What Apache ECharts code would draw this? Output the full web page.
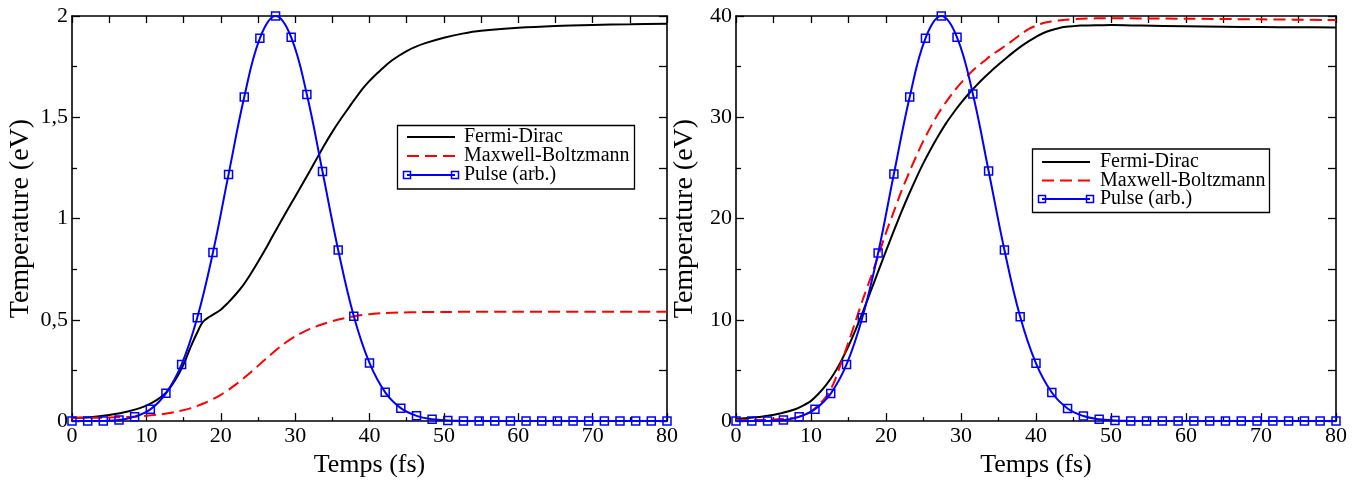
<!DOCTYPE html>
<html>
<head>
<meta charset="utf-8">
<script src="https://cdn.jsdelivr.net/npm/echarts@6/dist/echarts.min.js"></script>
<style>
html,body{margin:0;padding:0;background:#fff;}
#chart{width:1360px;height:483px;}
</style>
</head>
<body>
<div id="chart"></div>
<script>
// ---- Data ----
var pulseTimes = [0, 2.11, 4.21, 6.32, 8.42, 10.53, 12.63, 14.74, 16.84, 18.95, 21.05, 23.16, 25.26, 27.37, 29.47, 31.58, 33.68, 35.79, 37.89, 40, 42.11, 44.21, 46.32, 48.42, 50.53, 52.63, 54.74, 56.84, 58.95, 61.05, 63.16, 65.26, 67.37, 69.47, 71.58, 73.68, 75.79, 77.89, 80];
var pulseLeft = [0, 0, 0.001, 0.005, 0.022, 0.058, 0.137, 0.28, 0.51, 0.832, 1.218, 1.6, 1.89, 2.0, 1.895, 1.612, 1.232, 0.845, 0.518, 0.287, 0.142, 0.064, 0.026, 0.009, 0.003, 0.001, 0, 0, 0, 0, 0, 0, 0, 0, 0, 0, 0, 0, 0];
var pulseRight = [0, 0, 0.02, 0.1, 0.42, 1.18, 2.72, 5.6, 10.2, 16.6, 24.4, 32.0, 37.8, 40.0, 37.9, 32.3, 24.7, 16.9, 10.3, 5.7, 2.82, 1.25, 0.5, 0.18, 0.06, 0.02, 0, 0, 0, 0, 0, 0, 0, 0, 0, 0, 0, 0, 0];

var fdLeft = [[0,0.016],[2.5,0.019],[5,0.03],[7.5,0.047],[10,0.076],[12.5,0.135],[14,0.21],[15,0.28],[16,0.37],[17,0.45],[17.6,0.49],[18.5,0.515],[20,0.55],[21,0.585],[22,0.625],[23,0.67],[24,0.725],[25,0.785],[26,0.848],[27,0.915],[28,0.98],[29,1.045],[30,1.108],[31,1.172],[32,1.236],[33,1.302],[34,1.367],[35,1.428],[36,1.484],[37,1.536],[38,1.588],[39,1.638],[40,1.68],[41,1.716],[42,1.75],[43,1.78],[44,1.805],[45,1.827],[46,1.845],[47.5,1.866],[50,1.893],[52.5,1.913],[55,1.927],[60,1.942],[65,1.951],[70,1.956],[75,1.959],[80,1.962]];
var mbLeft = [[0,0.016],[4,0.017],[8,0.021],[10,0.026],[12,0.034],[14,0.046],[16,0.064],[18,0.092],[20,0.13],[22,0.18],[24,0.24],[26,0.305],[28,0.368],[30,0.418],[32,0.455],[34,0.482],[36,0.503],[38,0.518],[40,0.528],[42,0.533],[44,0.536],[47,0.538],[50,0.539],[60,0.54],[70,0.54],[80,0.54]];

var fdRight = [[0,0.2],[2,0.32],[4,0.5],[6,0.78],[8,1.2],[9,1.55],[10,2.0],[11,2.7],[12,3.55],[13,4.6],[14,5.9],[15,7.4],[16,9.1],[17,10.95],[18,12.9],[19,14.85],[20,16.8],[21,18.7],[22,20.55],[23,22.3],[24,23.95],[25,25.5],[26,26.9],[27,28.2],[28,29.4],[29,30.45],[30,31.42],[31,32.3],[32,33.1],[33,33.85],[34,34.55],[35,35.2],[36,35.83],[37,36.43],[38,37.0],[39,37.5],[40,37.95],[41,38.32],[42,38.6],[43,38.8],[44,38.93],[45,39.0],[46,39.05],[48,39.09],[50,39.1],[54,39.05],[60,38.98],[65,38.94],[70,38.91],[75,38.89],[80,38.87]];
var mbRight = [[0,0.1],[4,0.12],[6,0.2],[8,0.35],[9,0.6],[10,0.95],[11,1.6],[12,2.4],[13,3.7],[14,5.7],[15,7.8],[16,10.0],[17,12.2],[18,14.25],[19,16.4],[20,18.6],[21,20.6],[22,22.6],[23,24.4],[24,26.1],[25,27.7],[26,29.1],[27,30.4],[28,31.5],[29,32.5],[30,33.4],[31,34.2],[32,34.9],[33,35.5],[34,36.1],[35,36.6],[36,37.1],[37,37.65],[38,38.2],[39,38.7],[40,39.05],[41,39.3],[42,39.45],[43,39.55],[44,39.63],[46,39.72],[48,39.77],[50,39.78],[55,39.76],[60,39.73],[70,39.67],[80,39.6]];

var legendNames = ['Fermi-Dirac', 'Maxwell-Boltzmann', 'Pulse (arb.)'];
var xTitle = 'Temps (fs)';
var yTitle = 'Temperature (eV)';

// ---- helpers ----
var FONT = "'Liberation Serif', 'Times New Roman', serif";
function zipPulse(vals){ return pulseTimes.map(function(t,i){ return [t, vals[i]]; }); }
function commaFmt(v){ return String(v).replace('.', ','); }

function bottomX(gi){
  return {
    type:'value', gridIndex:gi, position:'bottom', min:0, max:80, interval:10,
    name: xTitle, nameLocation:'middle', nameGap:22,
    nameTextStyle:{fontFamily:FONT, fontSize:26, color:'#000'},
    axisLine:{show:true, onZero:false, lineStyle:{color:'#000', width:1.6}},
    axisTick:{show:true, inside:true, length:8, lineStyle:{color:'#000', width:1.3}},
    minorTick:{show:true, splitNumber:2, length:4, lineStyle:{color:'#000', width:1.3}},
    axisLabel:{fontFamily:FONT, fontSize:22, color:'#000', margin:4},
    splitLine:{show:false}, minorSplitLine:{show:false}
  };
}
function topX(gi){
  return {
    type:'value', gridIndex:gi, position:'top', min:0, max:80, interval:5,
    axisLine:{show:true, onZero:false, lineStyle:{color:'#000', width:1.6}},
    axisTick:{show:true, inside:true, length:7, lineStyle:{color:'#000', width:1.3}},
    axisLabel:{show:false}, splitLine:{show:false}
  };
}
function leftY(gi, max, interval, fmt){
  return {
    type:'value', gridIndex:gi, position:'left', min:0, max:max, interval:interval,
    name: yTitle, nameLocation:'middle', nameGap:37, nameRotate:90,
    nameTextStyle:{fontFamily:FONT, fontSize:28, color:'#000'},
    axisLine:{show:true, onZero:false, lineStyle:{color:'#000', width:1.6}},
    axisTick:{show:true, inside:true, length:8, lineStyle:{color:'#000', width:1.3}},
    minorTick:{show:true, splitNumber:2, length:5, lineStyle:{color:'#000', width:1.3}},
    axisLabel:{fontFamily:FONT, fontSize:22, color:'#000', margin:4, formatter:fmt},
    splitLine:{show:false}, minorSplitLine:{show:false}
  };
}
function rightY(gi, max, interval){
  return {
    type:'value', gridIndex:gi, position:'right', min:0, max:max, interval:interval,
    axisLine:{show:true, onZero:false, lineStyle:{color:'#000', width:1.6}},
    axisTick:{show:true, inside:true, length:8, lineStyle:{color:'#000', width:1.3}},
    axisLabel:{show:false}, splitLine:{show:false}
  };
}
function fdSeries(xi, yi, data){
  return {name:legendNames[0], type:'line', xAxisIndex:xi, yAxisIndex:yi, data:data,
    smooth:0.3, showSymbol:false, lineStyle:{color:'#000', width:2}, itemStyle:{color:'#000'}, z:2};
}
function mbSeries(xi, yi, data){
  return {name:legendNames[1], type:'line', xAxisIndex:xi, yAxisIndex:yi, data:data,
    smooth:0.3, showSymbol:false, lineStyle:{color:'#ff0000', width:2, type:[12,6]}, itemStyle:{color:'#ff0000'}, z:3};
}
function pulseSeries(xi, yi, vals){
  return {name:legendNames[2], type:'line', xAxisIndex:xi, yAxisIndex:yi, data:zipPulse(vals),
    smooth:0.4, showSymbol:true, showAllSymbol:true, symbol:'rect', symbolSize:8,
    lineStyle:{color:'#0000ff', width:2},
    itemStyle:{color:'rgba(0,0,0,0)', borderColor:'#0000ff', borderWidth:1.5}, z:4};
}

function legendGraphic(bx, by, bw, bh, lx1, lx2, tx, rows){
  var els = [];
  els.push({type:'rect', shape:{x:bx, y:by, width:bw, height:bh},
    style:{fill:'#fff', stroke:'#000', lineWidth:1.3}, z:100});
  els.push({type:'line', shape:{x1:lx1, y1:rows[0], x2:lx2, y2:rows[0]},
    style:{stroke:'#000', lineWidth:2}, z:101});
  els.push({type:'line', shape:{x1:lx1, y1:rows[1], x2:lx2, y2:rows[1]},
    style:{stroke:'#ff0000', lineWidth:2, lineDash:[12,6]}, z:101});
  els.push({type:'line', shape:{x1:lx1, y1:rows[2], x2:lx2, y2:rows[2]},
    style:{stroke:'#0000ff', lineWidth:2}, z:101});
  [lx1, lx2].forEach(function(cx){
    els.push({type:'rect', shape:{x:cx-3.5, y:rows[2]-3.5, width:7, height:7},
      style:{fill:'none', stroke:'#0000ff', lineWidth:1.5}, z:102});
  });
  for (var i=0;i<3;i++){
    els.push({type:'text', x:tx, y:rows[i], z:103,
      style:{text:legendNames[i], font:"20px " + FONT, fill:'#000', textVerticalAlign:'middle', verticalAlign:'middle'}});
  }
  return els;
}

var chart = echarts.init(document.getElementById('chart'), null, {renderer:'canvas'});
var option = {
  animation:false,
  backgroundColor:'#fff',
  grid:[
    {left:72, top:16, width:595, height:415},
    {left:736, top:16, width:600, height:415}
  ],
  xAxis:[bottomX(0), topX(0), bottomX(1), topX(1)],
  yAxis:[leftY(0, 2, 0.5, commaFmt), rightY(0, 2, 0.25), leftY(1, 40, 10, commaFmt), rightY(1, 40, 5)],
  series:[
    fdSeries(0,0,fdLeft), mbSeries(0,0,mbLeft), pulseSeries(0,0,pulseLeft),
    fdSeries(2,2,fdRight), mbSeries(2,2,mbRight), pulseSeries(2,2,pulseRight)
  ],
  graphic: legendGraphic(397.5, 125.5, 237, 63.5, 407, 455, 464, [137, 156, 175])
    .concat(legendGraphic(1032.5, 149, 237, 63.5, 1042, 1090, 1100, [162, 180.5, 199]))
};
chart.setOption(option);
</script>
</body>
</html>
